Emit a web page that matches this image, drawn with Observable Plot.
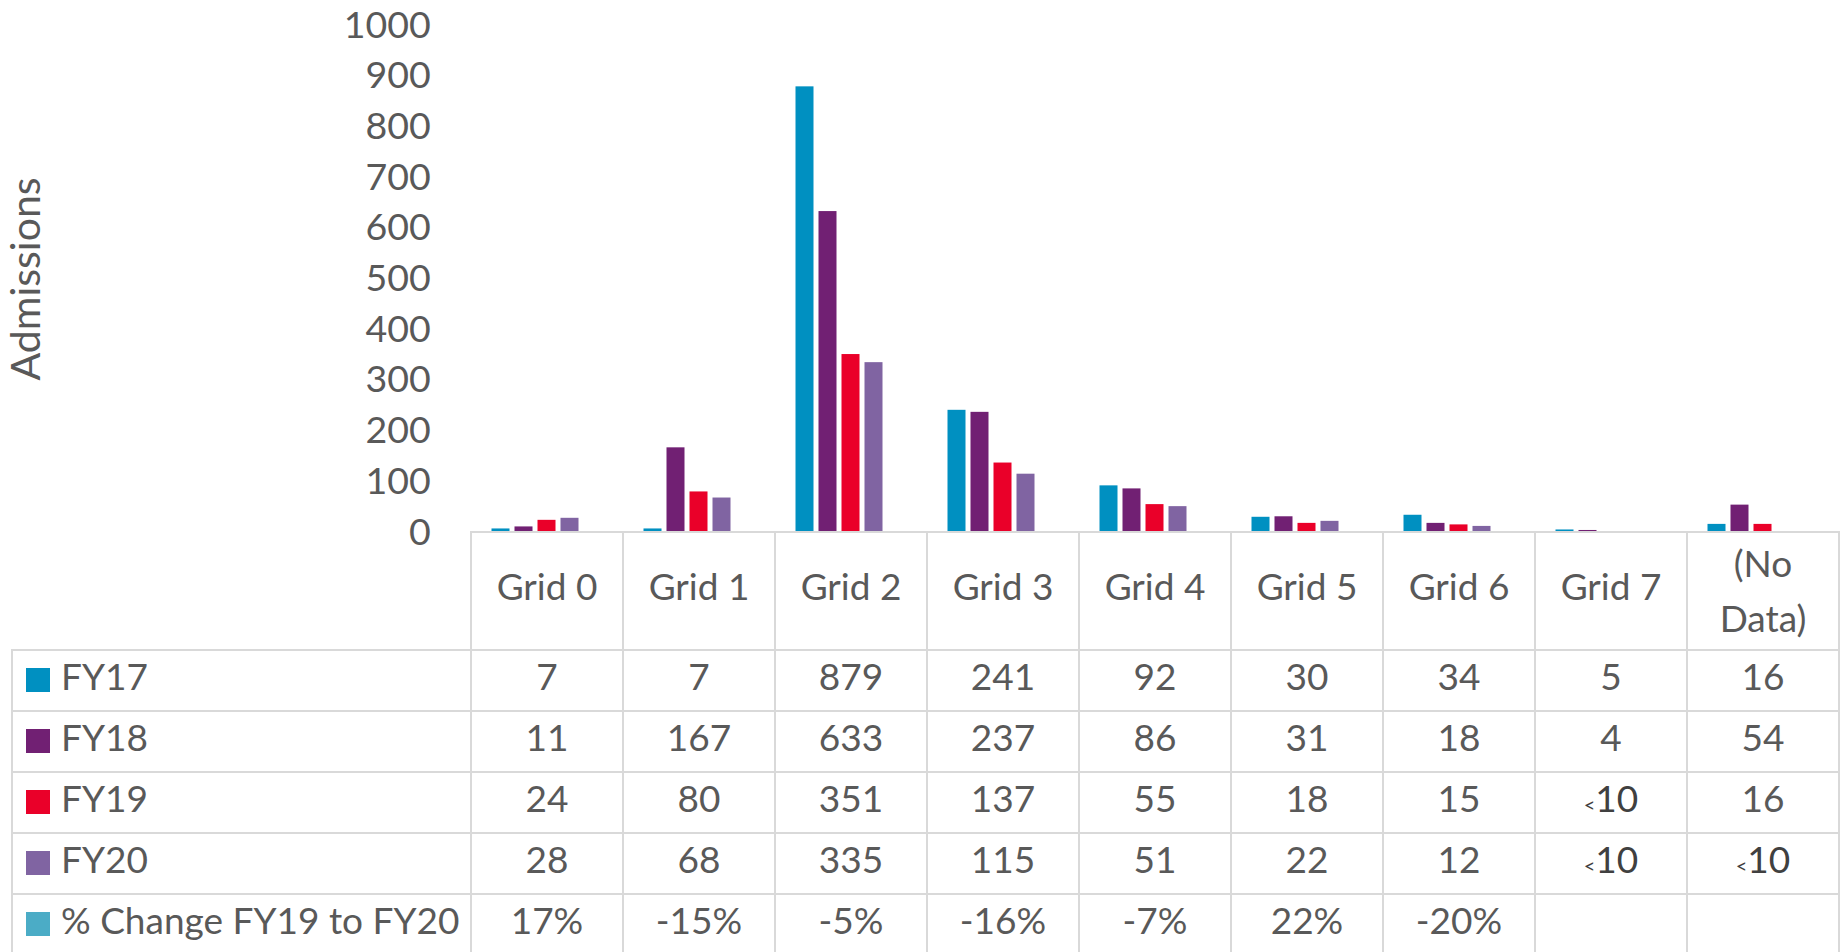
<!DOCTYPE html>
<html>
<head>
<meta charset="utf-8">
<script src="https://cdn.jsdelivr.net/npm/d3@7"></script>
<script src="https://cdn.jsdelivr.net/npm/@observablehq/plot@0.6"></script>
<style>
html, body { margin: 0; padding: 0; background: #fff; }
#chart { position: relative; width: 1845px; height: 952px; overflow: hidden; font-family: Lato, sans-serif; color: #595959; }
#chart svg { position: absolute; left: 0; top: 0; }
.ln { position: absolute; background: #d9d9d9; }
.cell { position: absolute; display: flex; align-items: center; justify-content: center; text-align: center; font-size: 37px; line-height: 1.2; white-space: nowrap; box-sizing: border-box; padding-bottom: 9px; }
.rowhead { position: absolute; display: flex; align-items: center; font-size: 37px; line-height: 1.2; white-space: nowrap; box-sizing: border-box; padding-bottom: 9px; }
.sw { position: absolute; width: 24px; height: 24px; }
.lt { font-size: 20px; }
.dk { color: #404040; }
</style>
</head>
<body>
<div id="chart"></div>
<script>
// ---- data ----
const grids = ["Grid 0", "Grid 1", "Grid 2", "Grid 3", "Grid 4", "Grid 5", "Grid 6", "Grid 7", "(No Data)"];
const gridLabels = ["Grid 0", "Grid 1", "Grid 2", "Grid 3", "Grid 4", "Grid 5", "Grid 6", "Grid 7", "(No<br>Data)"];
const seriesNames = ["FY17", "FY18", "FY19", "FY20", "% Change FY19 to FY20"];
const seriesColors = ["#0090c1", "#712073", "#ea0029", "#8064a2", "#4bacc6"];
const fy17 = [7, 7, 879, 241, 92, 30, 34, 5, 16];
const fy18 = [11, 167, 633, 237, 86, 31, 18, 4, 54];
const fy19 = [24, 80, 351, 137, 55, 18, 15, null, 16];   // null = suppressed "<10"
const fy20 = [28, 68, 335, 115, 51, 22, 12, null, null];
const pctChange = [0.17, -0.15, -0.05, -0.16, -0.07, 0.22, -0.20, undefined, undefined];
const yTicks = [0, 100, 200, 300, 400, 500, 600, 700, 800, 900, 1000];
const yLabel = "Admissions";

const seriesValues = [fy17, fy18, fy19, fy20, pctChange];
const bars = [];
seriesNames.forEach((s, i) => grids.forEach((g, j) => {
  bars.push({grid: g, series: s, value: seriesValues[i][j]});
}));

// ---- chart ----
const plot = Plot.plot({
  width: 1845,
  height: 532,
  marginTop: 25,
  marginBottom: 0,
  marginLeft: 468.5,
  marginRight: 4,
  style: {fontFamily: "Lato, sans-serif", fontSize: "37.5px", color: "#595959", background: "transparent", overflow: "visible"},
  fx: {domain: grids, padding: 0, axis: null},
  x: {domain: seriesNames, paddingInner: 0.2146, paddingOuter: 0.88, axis: null},
  y: {domain: [0, 1000], axis: null},
  color: {domain: seriesNames, range: seriesColors},
  marks: [
    Plot.barY(bars, {fx: "grid", x: "series", y: "value", fill: "series"}),
    Plot.axisY(yTicks, {
      tickSize: 0, tickPadding: 40.8, tickFormat: "d", label: null
    }),
    Plot.axisY({
      ticks: [], tickSize: 0, label: yLabel, labelAnchor: "center", labelArrow: false,
      labelOffset: 461, fontSize: 41
    })
  ]
});
const chart = document.getElementById("chart");
chart.appendChild(plot);

// ---- data table (x-axis labels + legend) built from the fx scale ----
const fx = plot.scale("fx");
const ys = plot.scale("y");
const colLeft = grids.map(g => fx.apply(g));
const colW = fx.bandwidth;
const right = colLeft[colLeft.length - 1] + colW;
const top0 = ys.apply(0);
const headerH = 118.3;
const rowH = 61;
const tableLeft = 12.3;
const bottom = 960;
const lw = 2;

function line(x, y, w, h) {
  const d = document.createElement("div");
  d.className = "ln";
  d.style.left = x + "px"; d.style.top = y + "px";
  d.style.width = w + "px"; d.style.height = h + "px";
  chart.appendChild(d);
}
function cell(x, y, w, h, html, cls) {
  const d = document.createElement("div");
  d.className = cls || "cell";
  d.style.left = x + "px"; d.style.top = y + "px";
  d.style.width = w + "px"; d.style.height = h + "px";
  d.innerHTML = html;
  chart.appendChild(d);
  return d;
}

// header row (category labels)
grids.forEach((g, j) => {
  const c = cell(colLeft[j], top0, colW, headerH, gridLabels[j]);
  if (g === "(No Data)") { c.style.lineHeight = "55px"; c.style.paddingBottom = "2px"; }
});

// data rows
const rowsTop = top0 + headerH;
seriesNames.forEach((s, i) => {
  const ry = rowsTop + i * rowH;
  const sw = document.createElement("div");
  sw.className = "sw";
  sw.style.left = "26px";
  sw.style.top = (ry + rowH / 2 - 13) + "px";
  sw.style.background = seriesColors[i];
  chart.appendChild(sw);
  cell(61, ry, colLeft[0] - 61, rowH, s, "rowhead");
  grids.forEach((g, j) => {
    const v = seriesValues[i][j];
    let txt;
    if (i === 4) txt = v == null ? "" : Math.round(v * 100) + "%";
    else txt = v == null ? '<span class="dk"><span class="lt">&lt;</span>10</span>' : String(v);
    cell(colLeft[j], ry, colW, rowH, txt);
  });
});

// grid lines
line(colLeft[0] - lw / 2, top0 - lw / 2, right - colLeft[0] + lw, lw);
for (let i = 0; i <= seriesNames.length; i++) {
  const yy = rowsTop + i * rowH;
  line(tableLeft - lw / 2, yy - lw / 2, right - tableLeft + lw, lw);
}
colLeft.concat([right]).forEach(x => line(x - lw / 2, top0 - lw / 2, lw, bottom - top0));
line(tableLeft - lw / 2, rowsTop - lw / 2, lw, bottom - rowsTop);
</script>
</body>
</html>
